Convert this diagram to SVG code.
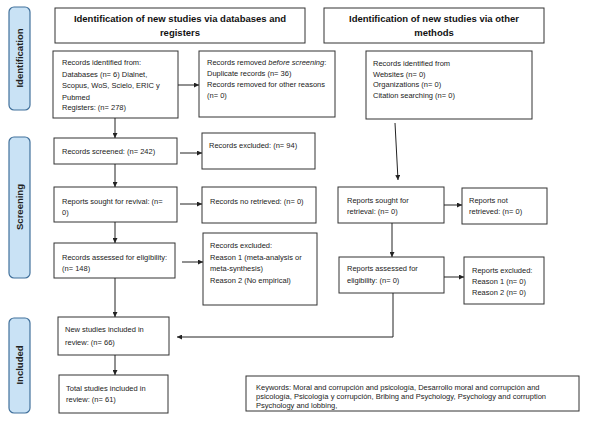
<svg xmlns="http://www.w3.org/2000/svg" width="589" height="432" viewBox="0 0 589 432">
<defs>
<style>
.box{fill:#fff;stroke:#333;stroke-width:1}
.side{fill:#c9e2f5;stroke:#41719c;stroke-width:1.2}
.t{font-family:"Liberation Sans",Arial,sans-serif;font-size:7.5px;fill:#222}
.k{font-family:"Liberation Sans",Arial,sans-serif;font-size:7.5px;fill:#222}
.h{font-family:"Liberation Sans",Arial,sans-serif;font-size:9.5px;font-weight:bold;fill:#111;text-anchor:middle}
.s{font-family:"Liberation Sans",Arial,sans-serif;font-size:9.5px;font-weight:bold;fill:#222;text-anchor:middle}
.c{fill:none;stroke:#222;stroke-width:1}
</style>
<marker id="ah" viewBox="0 0 10 10" refX="10" refY="5" markerWidth="5" markerHeight="5" orient="auto">
<path d="M0,0 L10,5 L0,10 z" fill="#222"/>
</marker>
</defs>
<rect width="589" height="432" fill="#fff"/>

<g id="side-identification">
<rect class="side" x="9" y="7" width="21" height="103" rx="5"/>
<text class="s" transform="translate(22.5,58) rotate(-90)">Identification</text>
</g>
<g id="side-screening">
<rect class="side" x="9" y="137" width="21" height="141" rx="5"/>
<text class="s" transform="translate(22.5,207) rotate(-90)">Screening</text>
</g>
<g id="side-included">
<rect class="side" x="9" y="318" width="21" height="95" rx="5"/>
<text class="s" transform="translate(22.5,365) rotate(-90)">Included</text>
</g>

<g id="header-databases">
<rect class="box" x="55" y="8" width="250" height="35"/>
<text class="h" x="180" y="22">Identification of new studies via databases and</text>
<text class="h" x="180" y="36">registers</text>
</g>
<g id="header-other">
<rect class="box" x="324" y="8" width="220" height="35"/>
<text class="h" x="434" y="22">Identification of new studies via other</text>
<text class="h" x="434" y="36">methods</text>
</g>

<g id="records-identified">
<rect class="box" x="53" y="51" width="125" height="67"/>
<text class="t" x="62" y="65">Records identified from:</text>
<text class="t" x="62" y="76.5">Databases (n= 6) Dialnet,</text>
<text class="t" x="62" y="88">Scopus, WoS, Scielo, ERIC y</text>
<text class="t" x="62" y="99.5">Pubmed</text>
<text class="t" x="62" y="110">Registers: (n= 278)</text>
</g>
<g id="records-removed">
<rect class="box" x="199" y="51" width="136" height="66"/>
<text class="t" x="207" y="65">Records removed <tspan font-style="italic">before screening</tspan>:</text>
<text class="t" x="207" y="76">Duplicate records (n= 36)</text>
<text class="t" x="207" y="87">Records removed for other reasons</text>
<text class="t" x="207" y="97.5">(n= 0)</text>
</g>
<g id="records-other">
<rect class="box" x="366" y="51" width="166" height="68"/>
<text class="t" x="373" y="66">Records identified from</text>
<text class="t" x="373" y="76.5">Websites (n= 0)</text>
<text class="t" x="373" y="87">Organizations (n= 0)</text>
<text class="t" x="373" y="97.5">Citation searching (n= 0)</text>
</g>

<g id="records-screened">
<rect class="box" x="54" y="138" width="123" height="26"/>
<text class="t" x="62" y="154">Records screened: (n= 242)</text>
</g>
<g id="records-excluded">
<rect class="box" x="202" y="133" width="113" height="36"/>
<text class="t" x="209" y="148">Records excluded: (n= 94)</text>
</g>
<g id="reports-sought">
<rect class="box" x="54" y="187" width="123" height="35"/>
<text class="t" x="62" y="204">Reports sought for revival: (n=</text>
<text class="t" x="62" y="215">0)</text>
</g>
<g id="records-no-retrieved">
<rect class="box" x="202" y="187" width="114" height="36"/>
<text class="t" x="210" y="204">Records no retrieved: (n= 0)</text>
</g>
<g id="records-assessed">
<rect class="box" x="54" y="243" width="121" height="35"/>
<text class="t" x="62" y="260">Records assessed for eligibility:</text>
<text class="t" x="62" y="271">(n= 148)</text>
</g>
<g id="records-excluded-2">
<rect class="box" x="203" y="233" width="114" height="72"/>
<text class="t" x="210" y="248">Records excluded:</text>
<text class="t" x="210" y="259.5">Reason 1 (meta-analysis or</text>
<text class="t" x="210" y="271">meta-synthesis)</text>
<text class="t" x="210" y="282.5">Reason 2 (No empirical)</text>
</g>

<g id="reports-sought-other">
<rect class="box" x="338" y="187" width="106" height="36"/>
<text class="t" x="347" y="203">Reports sought for</text>
<text class="t" x="347" y="214">retrieval: (n= 0)</text>
</g>
<g id="reports-not-retrieved">
<rect class="box" x="462" y="188" width="85" height="36"/>
<text class="t" x="469" y="203">Reports not</text>
<text class="t" x="469" y="214">retrieved: (n= 0)</text>
</g>
<g id="reports-assessed-other">
<rect class="box" x="339" y="257" width="105" height="36"/>
<text class="t" x="347" y="271">Reports assessed for</text>
<text class="t" x="347" y="283">eligibility: (n= 0)</text>
</g>
<g id="reports-excluded-other">
<rect class="box" x="464" y="257" width="80" height="47"/>
<text class="t" x="472" y="273">Reports excluded:</text>
<text class="t" x="472" y="284">Reason 1 (n= 0)</text>
<text class="t" x="472" y="295">Reason 2 (n= 0)</text>
</g>

<g id="new-studies">
<rect class="box" x="58" y="317" width="111" height="38"/>
<text class="t" x="65" y="332">New studies included in</text>
<text class="t" x="65" y="344.5">review: (n= 66)</text>
</g>
<g id="total-studies">
<rect class="box" x="59" y="375" width="109" height="38"/>
<text class="t" x="66" y="391">Total studies included in</text>
<text class="t" x="66" y="402">review: (n= 61)</text>
</g>
<g id="keywords">
<rect class="box" x="246" y="376" width="333" height="35"/>
<text class="k" x="256" y="390">Keywords: Moral and corrupción and psicología, Desarrollo moral and corrupción and</text>
<text class="k" x="256" y="399">psicología, Psicología y corrupción, Bribing and Psychology, Psychology and corruption</text>
<text class="k" x="256" y="408">Psychology and lobbing,</text>
</g>

<g id="connectors">
<line class="c" x1="178" y1="85" x2="199" y2="85" marker-end="url(#ah)"/>
<line class="c" x1="115" y1="118" x2="115" y2="138" marker-end="url(#ah)"/>
<line class="c" x1="180" y1="153" x2="202" y2="153" marker-end="url(#ah)"/>
<line class="c" x1="115" y1="164" x2="115" y2="187" marker-end="url(#ah)"/>
<line class="c" x1="180" y1="204" x2="202" y2="204" marker-end="url(#ah)"/>
<line class="c" x1="115" y1="222" x2="115" y2="243" marker-end="url(#ah)"/>
<line class="c" x1="182" y1="262" x2="203" y2="262" marker-end="url(#ah)"/>
<line class="c" x1="115" y1="278" x2="115" y2="317" marker-end="url(#ah)"/>
<line class="c" x1="115" y1="355" x2="115" y2="375" marker-end="url(#ah)"/>
<line class="c" x1="395" y1="123" x2="398" y2="180" marker-end="url(#ah)"/>
<line class="c" x1="444" y1="205" x2="462" y2="205" marker-end="url(#ah)"/>
<line class="c" x1="392" y1="223" x2="392" y2="257" marker-end="url(#ah)"/>
<line class="c" x1="444" y1="277" x2="464" y2="277" marker-end="url(#ah)"/>
<polyline class="c" points="393,293 393,337 177,337" marker-end="url(#ah)"/>
</g>
</svg>
